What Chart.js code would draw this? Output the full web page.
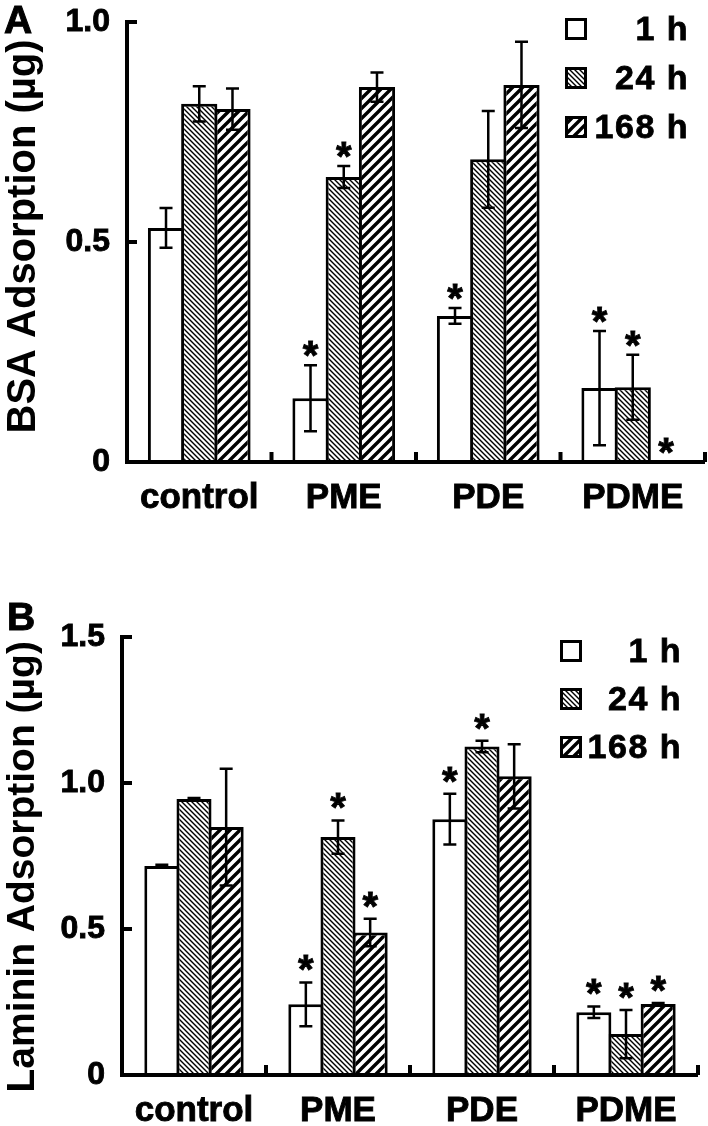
<!DOCTYPE html>
<html><head><meta charset="utf-8">
<script src="https://cdn.jsdelivr.net/npm/chart.js@4.4.0/dist/chart.umd.min.js"></script>
<style>
html,body{margin:0;padding:0;background:#fff;width:708px;height:1126px;overflow:hidden}
canvas{position:absolute;left:0}
#ca{top:0}
#cb{top:560px}
</style></head><body>
<canvas id="ca" width="708" height="550"></canvas>
<canvas id="cb" width="708" height="566"></canvas>
<script>
// ---- data ----
const categories = ['control', 'PME', 'PDE', 'PDME'];
const seriesLabels = ['1 h', '24 h', '168 h'];

// Panel A: BSA adsorption (µg)
const bsa1h = [0.532, 0.145, 0.332, 0.168];
const bsa24h = [0.814, 0.648, 0.688, 0.170];
const bsa168h = [0.802, 0.852, 0.857, 0.0];
const bsaErr1h = [0.045, 0.075, 0.018, 0.13];
const bsaErr24h = [0.040, 0.025, 0.110, 0.074];
const bsaErr168h = [0.047, 0.033, 0.098, 0.0];
const bsaStar1h = [false, true, true, true];
const bsaStar24h = [false, true, false, true];
const bsaStar168h = [false, false, false, true];
const yTicksA = ['0', '0.5', '1.0'];

// Panel B: Laminin adsorption (µg)
const lam1h = [0.716, 0.242, 0.876, 0.215];
const lam24h = [0.945, 0.815, 1.125, 0.140];
const lam168h = [0.849, 0.488, 1.023, 0.243];
const lamErr1h = [0.004, 0.075, 0.087, 0.020];
const lamErr24h = [0.004, 0.057, 0.020, 0.083];
const lamErr168h = [0.200, 0.047, 0.110, 0.004];
const lamStar1h = [false, true, true, true];
const lamStar24h = [false, true, true, true];
const lamStar168h = [false, true, false, true];
const yTicksB = ['0', '0.5', '1.0', '1.5'];

// ---- styling helpers ----
const FONT = '"Liberation Sans", Arial, Helvetica, sans-serif';

function hatch(ctx, period, lw, dir) {
  const c = document.createElement('canvas');
  c.width = c.height = period;
  const g = c.getContext('2d');
  g.fillStyle = '#fff'; g.fillRect(0, 0, period, period);
  g.strokeStyle = '#000'; g.lineWidth = lw; g.lineCap = 'square';
  g.beginPath();
  for (let k = -1; k <= 1; k++) {
    if (dir > 0) { g.moveTo(k * period, period); g.lineTo(k * period + period, 0); }
    else { g.moveTo(k * period, 0); g.lineTo(k * period + period, period); }
  }
  g.stroke();
  return ctx.createPattern(c, 'repeat');
}

function fills(ctx) {
  return ['#ffffff', hatch(ctx, 5, 1.4, -1), hatch(ctx, 10, 3.4, 1)];
}

function boldText(ctx, txt, x, y, sw) {
  ctx.lineWidth = sw;
  ctx.strokeStyle = '#000';
  ctx.strokeText(txt, x, y);
  ctx.fillText(txt, x, y);
}

const overlay = {
  id: 'overlay',
  afterDatasetsDraw(chart, args, o) {
    const ctx = chart.ctx, ca = chart.chartArea, ys = chart.scales.y;
    ctx.save();
    ctx.fillStyle = '#000';
    ctx.strokeStyle = '#000';
    // error bars + stars
    chart.data.datasets.forEach((ds, di) => {
      const meta = chart.getDatasetMeta(di);
      meta.data.forEach((bar, i) => {
        const v = ds.data[i], e = o.errors[di][i];
        const cx = bar.x;
        let topY = ys.getPixelForValue(v);
        if (v > 0) {
          const y1 = ys.getPixelForValue(v + e), y2 = ys.getPixelForValue(v - e);
          ctx.lineWidth = 2.5;
          ctx.beginPath();
          ctx.moveTo(cx, y1); ctx.lineTo(cx, y2);
          ctx.moveTo(cx - 6.5, y1); ctx.lineTo(cx + 6.5, y1);
          ctx.moveTo(cx - 6.5, y2); ctx.lineTo(cx + 6.5, y2);
          ctx.stroke();
          topY = y1;
        }
        if (o.stars[di][i]) {
          ctx.font = 'bold 40px ' + FONT;
          ctx.textAlign = 'center';
          ctx.textBaseline = 'alphabetic';
          boldText(ctx, '*', cx, topY - o.starGap + 23, 0.8);
        }
      });
    });
    // axes
    const top = ys.getPixelForValue(ys.max);
    ctx.fillRect(ca.left - 2, top - 2, 4, ca.bottom - top + 4);
    ctx.fillRect(ca.left - 2, ca.bottom - 2, ca.right - ca.left + 2, 4);
    ys.ticks.forEach(t => {
      if (t.value > 0) ctx.fillRect(ca.left, ys.getPixelForValue(t.value) - 2, 10, 4);
    });
    const n = chart.data.labels.length, cw = (ca.right - ca.left) / n;
    for (let k = 1; k <= n; k++) {
      const x = ca.left + k * cw;
      ctx.fillRect(x - 2, ca.bottom - 10, 4, 10);
    }
    // legend
    const L = o.legend;
    chart.data.datasets.forEach((ds, di) => {
      const b = L.baselines[di];
      ctx.fillStyle = ds.backgroundColor;
      ctx.fillRect(L.boxX, b - 22, 22, 22);
      ctx.lineWidth = 3;
      ctx.strokeStyle = '#000';
      ctx.strokeRect(L.boxX + 1.5, b - 22 + 1.5, 19, 19);
      ctx.fillStyle = '#000';
      ctx.font = 'bold 34px ' + FONT;
      ctx.textAlign = 'right';
      ctx.textBaseline = 'alphabetic';
      if ('letterSpacing' in ctx) ctx.letterSpacing = '1.5px';
      boldText(ctx, ds.label, L.textRight, b, 0.8);
      if ('letterSpacing' in ctx) ctx.letterSpacing = '0px';
    });
    // panel letter
    ctx.font = 'bold 39px ' + FONT;
    ctx.textAlign = 'left';
    boldText(ctx, o.panel.text, o.panel.x, o.panel.y, 1);
    ctx.restore();
  }
};

function makeChart(id, series, errors, stars, yMax, yTicks, yTitle, geo) {
  const ctx = document.getElementById(id).getContext('2d');
  const f = fills(ctx);
  return new Chart(ctx, {
    type: 'bar',
    data: {
      labels: categories,
      datasets: series.map((d, i) => ({
        label: seriesLabels[i],
        data: d,
        backgroundColor: f[i],
        borderColor: '#000',
        borderWidth: 3,
        borderSkipped: 'start',
        barPercentage: geo.barPct,
        categoryPercentage: geo.catPct
      }))
    },
    options: {
      responsive: false,
      animation: false,
      devicePixelRatio: 1,
      events: [],
      layout: { padding: { left: 0, right: geo.padRight, top: geo.padTop, bottom: 0 } },
      plugins: {
        legend: { display: false },
        tooltip: { enabled: false },
        overlay: {
          errors: errors, stars: stars, starGap: geo.starGap,
          legend: geo.legend, panel: geo.panel
        }
      },
      scales: {
        x: {
          grid: { display: false, drawTicks: false },
          border: { display: false },
          ticks: { font: { family: FONT, size: 35, weight: 'bold' }, color: '#000', textStrokeColor: '#000', textStrokeWidth: 0.9, padding: geo.xPad, maxRotation: 0, autoSkip: false },
          afterFit(s) { s.height = geo.xHeight; s.paddingLeft = 0; s.paddingRight = 0; }
        },
        y: {
          min: 0, max: yMax,
          grid: { display: false, drawTicks: false },
          border: { display: false },
          ticks: { stepSize: 0.5, callback: (v, i) => yTicks[i], font: { family: FONT, size: 32, weight: 'bold' }, color: '#000', textStrokeColor: '#000', textStrokeWidth: 0.9, padding: 17 },
          title: { display: true, text: yTitle, font: { family: FONT, size: geo.titleSize, weight: 'bold' }, color: '#000', padding: 0 },
          afterFit(s) { s.width = geo.yWidth; s.paddingTop = 0; s.paddingBottom = 0; }
        }
      }
    },
    plugins: [overlay]
  });
}

makeChart('ca',
  [bsa1h, bsa24h, bsa168h],
  [bsaErr1h, bsaErr24h, bsaErr168h],
  [bsaStar1h, bsaStar24h, bsaStar168h],
  1.0, yTicksA, ' BSA Adsorption (µg)',
  { barPct: 1.09, catPct: 0.69, padRight: 3, padTop: 22, xHeight: 88, xPad: 15, yWidth: 127, starGap: 19, titleSize: 40,
    legend: { boxX: 565, textRight: 689, baselines: [40, 89, 138] },
    panel: { text: 'A', x: 4, y: 33 } });

makeChart('cb',
  [lam1h, lam24h, lam168h],
  [lamErr1h, lamErr24h, lamErr168h],
  [lamStar1h, lamStar24h, lamStar168h],
  1.5, yTicksB, 'Laminin Adsorption (µg)  ',
  { barPct: 1.09, catPct: 0.67, padRight: 10, padTop: 77, xHeight: 51, xPad: 15, yWidth: 122, starGap: 22, titleSize: 39,
    legend: { boxX: 560, textRight: 682, baselines: [102, 150, 198] },
    panel: { text: 'B', x: 7, y: 70 } });
</script>
</body></html>
